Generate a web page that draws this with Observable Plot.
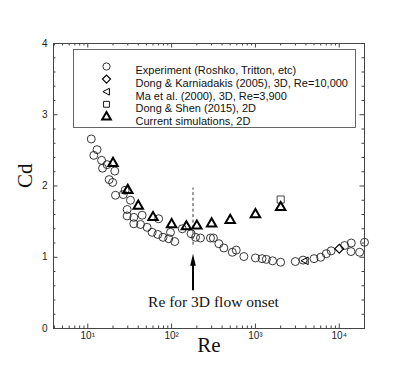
<!DOCTYPE html>
<html><head><meta charset="utf-8">
<script src="https://cdn.jsdelivr.net/npm/d3@7"></script>
<script src="https://cdn.jsdelivr.net/npm/@observablehq/plot@0.6"></script>
<style>body{margin:0;background:#fff}</style>
</head><body><div id="chart"></div>
<script>
// Experiment (Roshko, Tritton, etc)
const expRe = [11, 11.8, 12.9, 14.6, 15, 17, 18, 19.8, 21, 21.4, 26.5, 27.9, 32.3, 29.5, 29.5, 35.4, 44.5, 35.4, 42.6, 51, 70, 58.5, 68.5, 79, 92.6, 97, 109, 134,
  171, 193, 221, 291, 315, 366, 420, 530, 590, 728, 1000, 1200, 1350, 1600, 2000, 2990, 3700, 5000, 6000, 7000, 8000, 11600, 13900, 13800, 17500, 20000];
const expCd = [2.66, 2.43, 2.51, 2.36, 2.25, 2.30, 2.09, 2.05, 2.21, 1.87, 1.88, 1.94, 1.80, 1.67, 1.58, 1.56, 1.59, 1.47, 1.46, 1.42, 1.54, 1.35, 1.32, 1.28, 1.26, 1.35, 1.22, 1.40,
  1.33, 1.28, 1.27, 1.27, 1.27, 1.19, 1.13, 1.07, 1.10, 1.01, 0.99, 0.98, 0.97, 0.95, 0.93, 0.94, 0.96, 0.98, 1.00, 1.05, 1.09, 1.165, 1.20, 1.08, 1.07, 1.21];
// Dong & Karniadakis (2005)
const dkRe = [10000]; const dkCd = [1.12];
// Ma et al. (2000)
const maRe = [3900]; const maCd = [0.95];
// Dong & Shen (2015)
const dsRe = [2000]; const dsCd = [1.81];
// Current simulations
const curRe = [20, 30, 40, 60, 100, 150, 200, 300, 500, 1000, 2000];
const curCd = [2.32, 1.94, 1.72, 1.56, 1.46, 1.43, 1.44, 1.47, 1.52, 1.60, 1.70];

const legendLabels = ["Experiment (Roshko, Tritton, etc)", "Dong & Karniadakis (2005), 3D, Re=10,000", "Ma et al. (2000), 3D, Re=3,900", "Dong & Shen (2015), 2D", "Current simulations, 2D"];
const xMajor = [10, 100, 1000, 10000];
const yMajor = [0, 1, 2, 3, 4];
const onsetRe = 180;
const annotation = "Re for 3D flow onset";

const W = 415, H = 369, ML = 53, MR = 51, MT = 43, MB = 41;
const xDom = [3.9, 20000], yDom = [0, 4];
const pxPerDec = (W - ML - MR) / Math.log10(xDom[1] / xDom[0]);
const unitPerPx = (yDom[1] - yDom[0]) / (H - MT - MB);

const zip = (a, b) => a.map((v, i) => ({x: v, y: b[i]}));
const leftTri = {draw(ctx, size) { const r = Math.sqrt(size / Math.PI); ctx.moveTo(-r, 0); ctx.lineTo(r * 0.8, -r * 0.95); ctx.lineTo(r * 0.8, r * 0.95); ctx.closePath(); }};
const arrowHead = {draw(ctx) { ctx.moveTo(0, 0); ctx.lineTo(-2.8, 12); ctx.lineTo(2.8, 12); ctx.closePath(); }};

const xMinor = [];
for (let d = 1; d <= 10000; d *= 10) for (let m = 2; m <= 9; m++) { const v = d * m; if (v > xDom[0] && v < xDom[1]) xMinor.push(v); }
const yMinor = d3.range(0.2, 4, 0.2).filter(v => Math.abs(v - Math.round(v)) > 1e-6);

const sup = {"1": "\u00b9", "2": "\u00b2", "3": "\u00b3", "4": "\u2074"};
const frameC = "#444";
const Lmaj = 4.5, Lmin = 2.5;
const xr = (L) => xDom[0] * Math.pow(10, L / pxPerDec);
const xl = (L) => xDom[1] / Math.pow(10, L / pxPerDec);

const marks = [];
// inner ticks, all four sides
for (const [vals, L] of [[xMajor, Lmaj], [xMinor, Lmin]]) {
  marks.push(Plot.ruleX(vals, {y1: yDom[0], y2: yDom[0] + L * unitPerPx, stroke: frameC, strokeWidth: 1}));
  marks.push(Plot.ruleX(vals, {y1: yDom[1], y2: yDom[1] - L * unitPerPx, stroke: frameC, strokeWidth: 1}));
}
for (const [vals, L] of [[yMajor.slice(1, -1), Lmaj], [yMinor, Lmin]]) {
  marks.push(Plot.ruleY(vals, {x1: xDom[0], x2: xr(L), stroke: frameC, strokeWidth: 1}));
  marks.push(Plot.ruleY(vals, {x1: xDom[1], x2: xl(L), stroke: frameC, strokeWidth: 1}));
}
marks.push(
  Plot.frame({stroke: frameC, strokeWidth: 1}),
  Plot.axisX({ticks: xMajor, tickSize: 0, tickPadding: 3, label: null, fontSize: 10,
    tickFormat: d => "10" + sup[String(Math.round(Math.log10(d)))]}),
  Plot.axisY({ticks: yMajor, tickSize: 0, tickPadding: 6, label: null, fontSize: 10, tickFormat: d3.format("d")}),
  Plot.text(["Re"], {frameAnchor: "bottom", dy: 23, fontFamily: "Liberation Serif, Times New Roman, serif", fontSize: 21, fill: "#111"}),
  Plot.text(["Cd"], {frameAnchor: "left", dx: -28, dy: 2, rotate: -90, fontFamily: "Liberation Serif, Times New Roman, serif", fontSize: 21, fill: "#111"}),
  // onset annotation
  Plot.ruleX([onsetRe], {y1: 1.17, y2: 1.97, stroke: "#333", strokeWidth: 1, strokeDasharray: "3,2.5"}),
  Plot.ruleX([onsetRe], {y1: 0.53, y2: 0.92, stroke: "#000", strokeWidth: 2}),
  Plot.dot([onsetRe], {x: d => d, y: 1.05, symbol: arrowHead, fill: "#000", stroke: "none"}),
  Plot.text([annotation], {x: 316, y: 0.365, fontFamily: "Liberation Serif, Times New Roman, serif", fontSize: 15.5, fill: "#111"}),
  // data
  Plot.dot(zip(expRe, expCd), {x: "x", y: "y", r: 4, stroke: "#222", strokeWidth: 0.9, fill: "none"}),
  Plot.dot(zip(dkRe, dkCd), {x: "x", y: "y", symbol: "diamond2", r: 4, stroke: "#000", strokeWidth: 1.2, fill: "none"}),
  Plot.dot(zip(maRe, maCd), {x: "x", y: "y", symbol: leftTri, r: 4, stroke: "#000", strokeWidth: 1, fill: "none"}),
  Plot.dot(zip(dsRe, dsCd), {x: "x", y: "y", symbol: "square", r: 4, stroke: "#333", strokeWidth: 0.9, fill: "none"}),
  Plot.dot(zip(curRe, curCd), {x: "x", y: "y", symbol: "triangle", r: 3.5, stroke: "#000", strokeWidth: 2, fill: "none"}),
  // legend
  Plot.frame({insetLeft: 20, insetTop: 6, insetRight: 9, insetBottom: 201, stroke: "#555", strokeWidth: 0.9})
);
const legSym = [
  {symbol: "circle", r: 3.6, sw: 0.8},
  {symbol: "diamond2", r: 3.6, sw: 1.2},
  {symbol: leftTri, r: 3.6, sw: 1},
  {symbol: "square", r: 3.3, sw: 0.9},
  {symbol: "triangle", r: 3.2, sw: 2}
];
legendLabels.forEach((lab, i) => {
  const dy = 66 + i * 12.6 - MT;
  marks.push(Plot.dot([lab], {frameAnchor: "top-left", dx: 106 - ML, dy, symbol: legSym[i].symbol, r: legSym[i].r, stroke: "#000", strokeWidth: legSym[i].sw, fill: "none"}));
  marks.push(Plot.text([lab], {frameAnchor: "top-left", dx: 135 - ML, dy, text: d => d, textAnchor: "start", fontSize: 11, fill: "#111"}));
});

const chart = Plot.plot({
  width: W, height: H, marginLeft: ML, marginRight: MR, marginTop: MT, marginBottom: MB,
  x: {type: "log", domain: xDom},
  y: {domain: yDom},
  style: {fontFamily: "Liberation Sans, Arial, sans-serif", fontSize: "10px", color: "#222", background: "#fff"},
  marks
});
document.getElementById("chart").append(chart);
</script>
</body></html>
